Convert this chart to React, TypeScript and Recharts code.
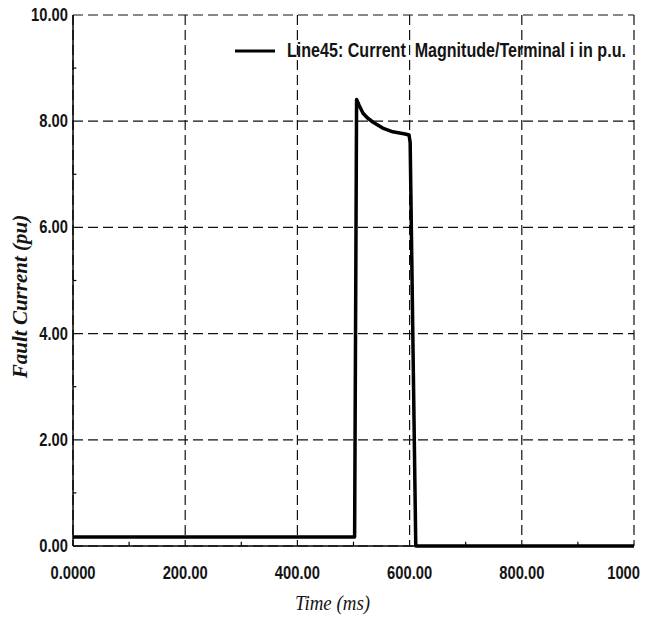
import { LineChart, Line, XAxis, YAxis, CartesianGrid, ReferenceLine } from "recharts";

// fault current on Line45
const timeMs = [0, 502, 505.5, 510, 517, 525, 535, 552, 570, 592, 599, 601, 606, 611, 1000];
const currentPu = [0.17, 0.17, 8.41, 8.3, 8.15, 8.06, 7.98, 7.87, 7.8, 7.76, 7.74, 7.6, 3.8, 0, 0];

const xTicks = [0, 200, 400, 600, 800, 1000];
const xTickLabels = ["0.0000", "200.00", "400.00", "600.00", "800.00", "1000"];
const yTicks = [0, 2, 4, 6, 8, 10];
const yTickLabels = ["0.00", "2.00", "4.00", "6.00", "8.00", "10.00"];
const xMinor = [100, 300, 500, 700, 900];
const yMinor = [1, 3, 5, 7, 9];

const seriesName = "Line45: Current  Magnitude/Terminal i in p.u.";

const data = timeMs.map((t, i) => ({ t, current: currentPu[i] }));

// no narrow font installed, so squeeze Liberation Sans horizontally
const SANS = "'Liberation Sans', Arial, sans-serif";
const SERIF = "'Liberation Serif', 'DejaVu Serif', serif";
const INK = "#141414";
const SQUEEZE = 0.82;

const XTick = ({ x, y, payload }: any) => {
  const idx = xTicks.indexOf(payload.value);
  const last = idx === xTicks.length - 1;
  return (
    <text transform={`translate(${last ? x + 6 : x}, ${y + 25}) scale(${SQUEEZE}, 1)`}
      textAnchor={last ? "end" : "middle"}
      fontFamily={SANS} fontWeight={700} fontSize={18} fill={INK}>
      {xTickLabels[idx]}
    </text>
  );
};

const YTick = ({ x, y, payload }: any) => {
  const idx = yTicks.indexOf(payload.value);
  return (
    <text transform={`translate(${x + 3}, ${y + 6}) scale(${SQUEEZE}, 1)`} textAnchor="end"
      fontFamily={SANS} fontWeight={700} fontSize={18} fill={INK}>
      {yTickLabels[idx]}
    </text>
  );
};

const YTitle = ({ viewBox }: any) => {
  const cy = viewBox.y + viewBox.height / 2 + 16;
  return (
    <text x={20} y={cy} transform={`rotate(-90, 20, ${cy})`} textAnchor="middle" dominantBaseline="central"
      fontFamily={SERIF} fontStyle="italic" fontWeight={700} fontSize={21} fill={INK}>
      Fault Current (pu)
    </text>
  );
};

const XTitle = ({ viewBox }: any) => (
  <text transform={`translate(${viewBox.x + viewBox.width / 2 - 21}, 610) scale(0.86, 1)`} textAnchor="middle"
    fontFamily={SERIF} fontStyle="italic" fontSize={22} fill={INK}>
    Time (ms)
  </text>
);

const LegendBox = () => (
  <div style={{ position: "absolute", top: 39, left: 235, display: "flex", alignItems: "center", whiteSpace: "pre" }}>
    <svg width={40} height={6} style={{ marginRight: 12 }}>
      <line x1={0} y1={3} x2={40} y2={3} stroke="#000" strokeWidth={3} />
    </svg>
    <span style={{ display: "inline-block", transform: `scaleX(${SQUEEZE})`, transformOrigin: "left center",
      fontFamily: SANS, fontWeight: 700, fontSize: 19.6, color: INK }}>
      {seriesName}
    </span>
  </div>
);

export default function App() {
  return (
    <div style={{ position: "absolute", left: 0, top: 0, width: 645, height: 617, background: "#fff" }}>
      <LineChart width={645} height={617} data={data} margin={{ top: 15, right: 11, left: 0, bottom: 0 }}>
        <CartesianGrid stroke="#111" strokeWidth={1.2} strokeDasharray="10 5" />
        <XAxis dataKey="t" type="number" domain={[0, 1000]} ticks={xTicks} interval={0}
          height={71} tick={<XTick />} tickLine={false}
          axisLine={{ stroke: "#000", strokeWidth: 1.5 }} label={<XTitle />} />
        <YAxis type="number" domain={[0, 10]} ticks={yTicks} interval={0}
          width={73} tick={<YTick />} tickLine={false}
          axisLine={{ stroke: "#000", strokeWidth: 1.5 }} label={<YTitle />} />
        {xMinor.map((v) => (
          <ReferenceLine key={"xm" + v} segment={[{ x: v, y: 0 }, { x: v, y: 0.08 }]}
            stroke="#000" strokeWidth={1.2} ifOverflow="visible" />
        ))}
        {yMinor.map((v) => (
          <ReferenceLine key={"ym" + v} segment={[{ x: 0, y: v }, { x: 6, y: v }]}
            stroke="#000" strokeWidth={1.2} ifOverflow="visible" />
        ))}
        <Line type="linear" dataKey="current" name={seriesName} stroke="#000" strokeWidth={3.5}
          dot={false} isAnimationActive={false} strokeLinejoin="round" />
      </LineChart>
      <LegendBox />
    </div>
  );
}
